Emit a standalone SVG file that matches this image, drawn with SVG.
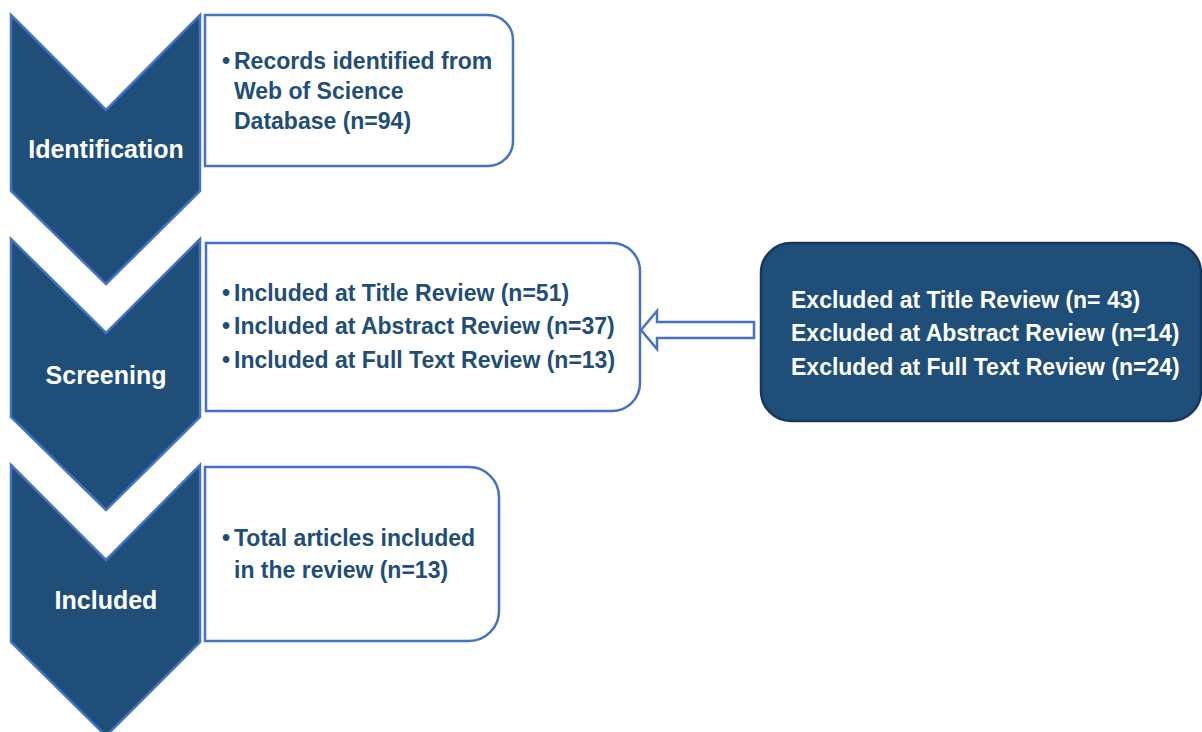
<svg xmlns="http://www.w3.org/2000/svg" width="1202" height="732" viewBox="0 0 1202 732">
<style>
.chev{fill:#1F4E79;stroke:#4472C4;stroke-width:2.5;stroke-linejoin:miter}
.box{fill:#FFFFFF;stroke:#4472C4;stroke-width:2.5}
.exc{fill:#1F4E79;stroke:#17375E;stroke-width:2.5}
.lbl{font-family:"Liberation Sans",Arial,sans-serif;font-weight:bold;font-size:25px;fill:#FFFFFF;text-anchor:middle}
.txt{font-family:"Liberation Sans",Arial,sans-serif;font-weight:bold;font-size:23px;fill:#1F4E79}
.wtxt{font-family:"Liberation Sans",Arial,sans-serif;font-weight:bold;font-size:23px;fill:#FFFFFF}
.arrow{fill:#FFFFFF;stroke:#4472C4;stroke-width:2.5;stroke-linejoin:miter}
</style>
<rect width="1202" height="732" fill="#FFFFFF"/>
<g id="identification">
<polygon class="chev" points="11,15 106,110 200,15 200,191 106,284 11,191"/>
<text class="lbl" x="106" y="158">Identification</text>
</g>
<g id="screening">
<polygon class="chev" points="11,239 106,333 200,239 200,417 106,510 11,417"/>
<text class="lbl" x="106" y="384">Screening</text>
</g>
<g id="included">
<polygon class="chev" points="11,465 106,560 200,465 200,642 106,736 11,642"/>
<text class="lbl" x="106" y="609">Included</text>
</g>
<g id="records-box">
<path class="box" d="M205,15 H488 A25,25 0 0 1 513,40 V141 A25,25 0 0 1 488,166 H205 Z"/>
<text class="txt" x="222" y="69">•<tspan x="234">Records identified from</tspan></text>
<text class="txt" x="234" y="99">Web of Science</text>
<text class="txt" x="234" y="129">Database (n=94)</text>
</g>
<g id="screening-box">
<path class="box" d="M206,243 H612 A28,28 0 0 1 640,271 V383 A28,28 0 0 1 612,411 H206 Z"/>
<text class="txt" x="222" y="301">•<tspan x="234">Included at Title Review (n=51)</tspan></text>
<text class="txt" x="222" y="334">•<tspan x="234">Included at Abstract Review (n=37)</tspan></text>
<text class="txt" x="222" y="368">•<tspan x="234">Included at Full Text Review (n=13)</tspan></text>
</g>
<g id="included-box">
<path class="box" d="M205,467 H469 A30,30 0 0 1 499,497 V611 A30,30 0 0 1 469,641 H205 Z"/>
<text class="txt" x="222" y="546">•<tspan x="234">Total articles included</tspan></text>
<text class="txt" x="234" y="578">in the review (n=13)</text>
</g>
<g id="excluded-box">
<rect class="exc" x="761" y="243" width="440" height="178" rx="30" ry="30"/>
<text class="wtxt" x="791" y="308">Excluded at Title Review (n= 43)</text>
<text class="wtxt" x="791" y="341">Excluded at Abstract Review (n=14)</text>
<text class="wtxt" x="791" y="375">Excluded at Full Text Review (n=24)</text>
</g>
<g id="connectors">
<polygon class="arrow" points="754,322 657,322 657,311 641,330 657,349 657,338 754,338"/>
</g>
</svg>
